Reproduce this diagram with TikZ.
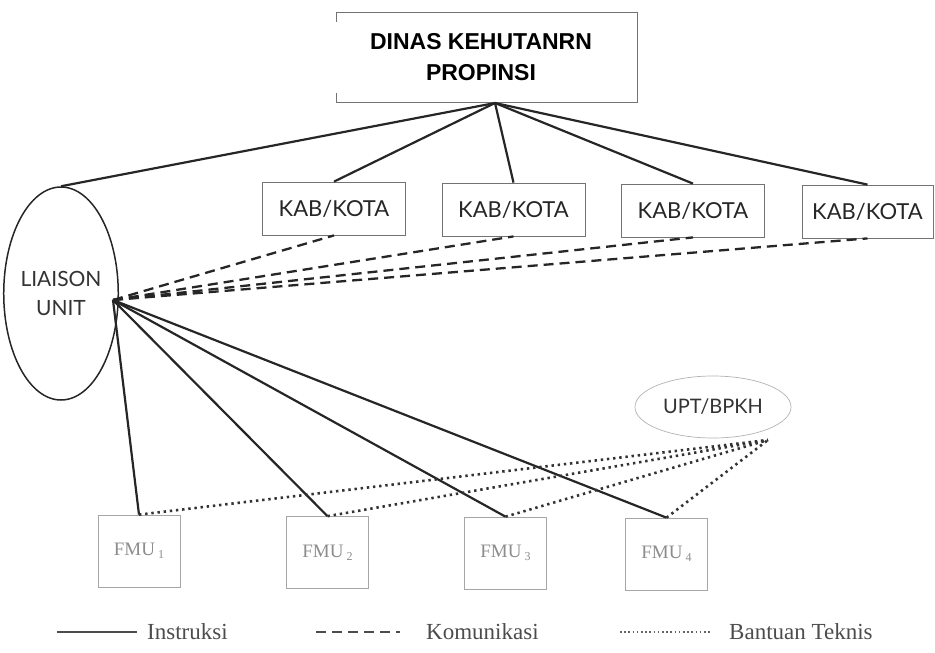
\documentclass[tikz,border=0pt]{standalone}
\usepackage{fontspec}
\setmainfont{Liberation Serif}
\newfontfamily\lato{Lato}
\newfontfamily\arialb{Liberation Sans}
\usetikzlibrary{shapes.geometric}
\begin{document}
\begin{tikzpicture}[x=1pt,y=-1pt,
  solidline/.style={line width=2.2pt, draw=black!85},
  dashline/.style={line width=2.3pt, draw=black!85, dash pattern=on 10pt off 6pt},
  dotline/.style={line width=2.6pt, draw=black!80, dash pattern=on 2.4pt off 3.8pt},
  kabbox/.style={draw=black!55, line width=0.8pt, minimum width=143pt, minimum height=53pt,
    inner sep=0pt, font=\lato\fontsize{22}{26}\selectfont, text=black!85},
  fmubox/.style={draw=black!35, line width=0.7pt, minimum width=82pt, minimum height=72pt,
    inner sep=0pt, text=black!45, font=\fontsize{19}{22}\selectfont},
  legtext/.style={anchor=west, inner sep=0pt, text=black!70, font=\fontsize{23}{26}\selectfont}
]
\useasboundingbox (0,0) rectangle (935,653);

% top box
\node[draw=black!55, line width=0.8pt, minimum width=301pt, minimum height=90pt, inner sep=0pt] (top) at (486.5,57) {};
\node[fill=white, minimum width=306pt, minimum height=71pt, inner sep=0pt, align=center,
      font=\arialb\bfseries\fontsize{23}{31}\selectfont] (title) at (481,57)
      {DINAS KEHUTANRN\\PROPINSI};
\coordinate (hub) at (495,103);

% liaison unit
\node[ellipse, draw=black!85, line width=1.5pt, minimum width=98pt, minimum height=213pt,
      inner sep=0pt, align=center, font=\lato\fontsize{21}{29}\selectfont, text=black!80]
      (li) at (61,293.5) {LIAISON\\UNIT};
\coordinate (lh) at (113,300);

% KAB/KOTA boxes
\node[kabbox] (k1) at (334,208.5) {KAB/KOTA};
\node[kabbox] (k2) at (513.5,209.5) {KAB/KOTA};
\node[kabbox] (k3) at (693,210.5) {KAB/KOTA};
\node[kabbox, minimum width=131pt] (k4) at (867.5,211.5) {KAB/KOTA};

% UPT/BPKH
\node[ellipse, draw=black!30, line width=0.7pt, minimum width=156pt, minimum height=62pt,
      inner sep=0pt, font=\lato\fontsize{20}{24}\selectfont, text=black!80]
      (upt) at (713,407) {UPT/BPKH};
\coordinate (uh) at (768,440);

% FMU boxes
\node[fmubox] (f1) at (139,551) {FMU\,\raisebox{-3pt}{\fontsize{12}{12}\selectfont 1}};
\node[fmubox] (f2) at (327.5,552.5) {FMU\,\raisebox{-3pt}{\fontsize{12}{12}\selectfont 2}};
\node[fmubox] (f3) at (505.5,553) {FMU\,\raisebox{-3pt}{\fontsize{12}{12}\selectfont 3}};
\node[fmubox] (f4) at (666.5,554) {FMU\,\raisebox{-3pt}{\fontsize{12}{12}\selectfont 4}};

% instruction lines
\draw[solidline] (li.north) -- (hub);
\foreach \k in {k1,k2,k3,k4} \draw[solidline] (hub) -- (\k.north);
\foreach \f in {f1,f2,f3,f4} \draw[solidline] (lh) -- (\f.north);

% communication lines
\foreach \k in {k1,k2,k3,k4} \draw[dashline] (lh) -- (\k.south);

% technical assistance
\foreach \f in {f1,f2,f3,f4} \draw[dotline] (\f.north) -- (uh);

% legend
\coordinate (l1a) at (57,632); \coordinate (l1b) at (137,632);
\coordinate (l2a) at (316,632); \coordinate (l2b) at (400,632);
\coordinate (l3a) at (620,632); \coordinate (l3b) at (710,632);
\draw[solidline, draw=black!70] (l1a) -- (l1b);
\draw[dashline, draw=black!70] (l2a) -- (l2b);
\draw[line width=1.6pt, draw=black!60, dash pattern=on 1.6pt off 2.6pt] (l3a) -- (l3b);
\node[legtext] (t1) at (147,632) {Instruksi};
\node[legtext] (t2) at (426,632) {Komunikasi};
\node[legtext] (t3) at (729,632) {Bantuan Teknis};
\end{tikzpicture}
\end{document}
